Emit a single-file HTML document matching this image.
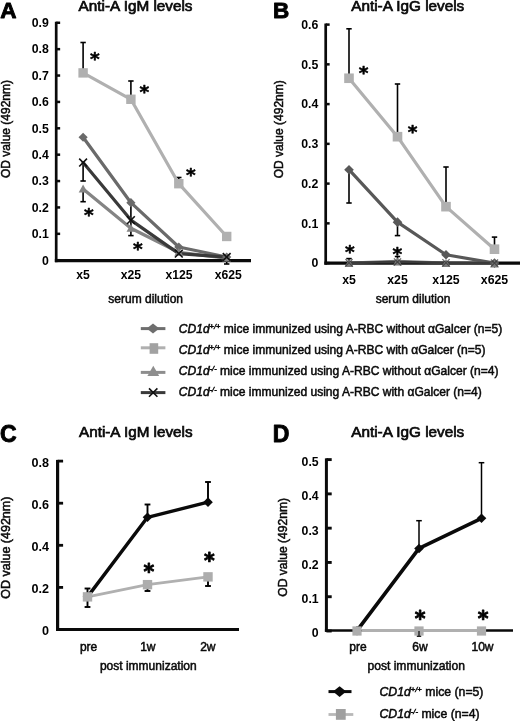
<!DOCTYPE html>
<html lang="en"><head><meta charset="utf-8"><title>Anti-A antibody levels</title>
<style>html,body{margin:0;padding:0;background:#fff}svg{display:block}</style></head>
<body>
<svg width="520" height="721" viewBox="0 0 520 721" font-family="Liberation Sans, Arial, Helvetica, sans-serif">
<rect width="520" height="721" fill="#fff"/>
<g style="filter:grayscale(1)">
<text transform="translate(0.3,18.4) scale(1.0,1)" font-size="22.5" font-weight="bold" fill="#000" stroke="#000" stroke-width="0.9" stroke-linejoin="round">A</text>
<text x="78.6" y="11.3" font-size="15.3" text-anchor="start" font-weight="normal" font-style="normal" fill="#0a0a0a" stroke="#0a0a0a" stroke-width="0.7" >Anti-A IgM levels</text>
<line x1="56.20" y1="21.73" x2="56.20" y2="262.20" stroke="#0a0a0a" stroke-width="2.7" stroke-linecap="butt"/>
<line x1="54.85" y1="260.65" x2="251.00" y2="260.65" stroke="#0a0a0a" stroke-width="3.1" stroke-linecap="butt"/>
<line x1="56.20" y1="260.20" x2="60.15" y2="260.20" stroke="#0a0a0a" stroke-width="2.5" stroke-linecap="butt"/>
<text x="48.800000000000004" y="264.5" font-size="12.3" text-anchor="end" font-weight="bold" font-style="normal" fill="#000" >0</text>
<line x1="56.20" y1="233.82" x2="60.15" y2="233.82" stroke="#0a0a0a" stroke-width="2.5" stroke-linecap="butt"/>
<text x="48.800000000000004" y="238.12" font-size="12.3" text-anchor="end" font-weight="bold" font-style="normal" fill="#000" >0.1</text>
<line x1="56.20" y1="207.44" x2="60.15" y2="207.44" stroke="#0a0a0a" stroke-width="2.5" stroke-linecap="butt"/>
<text x="48.800000000000004" y="211.74" font-size="12.3" text-anchor="end" font-weight="bold" font-style="normal" fill="#000" >0.2</text>
<line x1="56.20" y1="181.06" x2="60.15" y2="181.06" stroke="#0a0a0a" stroke-width="2.5" stroke-linecap="butt"/>
<text x="48.800000000000004" y="185.36" font-size="12.3" text-anchor="end" font-weight="bold" font-style="normal" fill="#000" >0.3</text>
<line x1="56.20" y1="154.68" x2="60.15" y2="154.68" stroke="#0a0a0a" stroke-width="2.5" stroke-linecap="butt"/>
<text x="48.800000000000004" y="158.98" font-size="12.3" text-anchor="end" font-weight="bold" font-style="normal" fill="#000" >0.4</text>
<line x1="56.20" y1="128.30" x2="60.15" y2="128.30" stroke="#0a0a0a" stroke-width="2.5" stroke-linecap="butt"/>
<text x="48.800000000000004" y="132.6" font-size="12.3" text-anchor="end" font-weight="bold" font-style="normal" fill="#000" >0.5</text>
<line x1="56.20" y1="101.92" x2="60.15" y2="101.92" stroke="#0a0a0a" stroke-width="2.5" stroke-linecap="butt"/>
<text x="48.800000000000004" y="106.21999999999998" font-size="12.3" text-anchor="end" font-weight="bold" font-style="normal" fill="#000" >0.6</text>
<line x1="56.20" y1="75.54" x2="60.15" y2="75.54" stroke="#0a0a0a" stroke-width="2.5" stroke-linecap="butt"/>
<text x="48.800000000000004" y="79.83999999999999" font-size="12.3" text-anchor="end" font-weight="bold" font-style="normal" fill="#000" >0.7</text>
<line x1="56.20" y1="49.16" x2="60.15" y2="49.16" stroke="#0a0a0a" stroke-width="2.5" stroke-linecap="butt"/>
<text x="48.800000000000004" y="53.459999999999965" font-size="12.3" text-anchor="end" font-weight="bold" font-style="normal" fill="#000" >0.8</text>
<line x1="56.20" y1="22.78" x2="60.15" y2="22.78" stroke="#0a0a0a" stroke-width="2.5" stroke-linecap="butt"/>
<text x="48.800000000000004" y="27.079999999999973" font-size="12.3" text-anchor="end" font-weight="bold" font-style="normal" fill="#000" >0.9</text>
<text x="83.1" y="279.1" font-size="12.2" text-anchor="middle" font-weight="bold" font-style="normal" fill="#000" >x5</text>
<text x="130.9" y="279.1" font-size="12.2" text-anchor="middle" font-weight="bold" font-style="normal" fill="#000" >x25</text>
<text x="179.0" y="279.1" font-size="12.2" text-anchor="middle" font-weight="bold" font-style="normal" fill="#000" >x125</text>
<text x="228.2" y="279.1" font-size="12.2" text-anchor="middle" font-weight="bold" font-style="normal" fill="#000" >x625</text>
<text x="145.7" y="302.5" font-size="12" text-anchor="middle" font-weight="normal" font-style="normal" fill="#0a0a0a" stroke="#0a0a0a" stroke-width="0.5" >serum dilution</text>
<text transform="translate(9.7,129) rotate(-90)" font-size="12" text-anchor="middle" fill="#0a0a0a" stroke="#0a0a0a" stroke-width="0.5">OD value (492nm)</text>
<line x1="83.10" y1="72.90" x2="83.10" y2="42.50" stroke="#000" stroke-width="1.6" stroke-linecap="butt"/>
<line x1="80.40" y1="42.50" x2="85.80" y2="42.50" stroke="#000" stroke-width="1.6" stroke-linecap="butt"/>
<line x1="130.90" y1="99.28" x2="130.90" y2="81.00" stroke="#000" stroke-width="1.6" stroke-linecap="butt"/>
<line x1="128.20" y1="81.00" x2="133.60" y2="81.00" stroke="#000" stroke-width="1.6" stroke-linecap="butt"/>
<line x1="178.80" y1="183.70" x2="178.80" y2="177.50" stroke="#000" stroke-width="1.6" stroke-linecap="butt"/>
<line x1="176.10" y1="177.50" x2="181.50" y2="177.50" stroke="#000" stroke-width="1.6" stroke-linecap="butt"/>
<line x1="83.10" y1="162.59" x2="83.10" y2="181.00" stroke="#000" stroke-width="1.6" stroke-linecap="butt"/>
<line x1="80.40" y1="181.00" x2="85.80" y2="181.00" stroke="#000" stroke-width="1.6" stroke-linecap="butt"/>
<line x1="83.10" y1="188.97" x2="83.10" y2="201.70" stroke="#000" stroke-width="1.6" stroke-linecap="butt"/>
<line x1="80.40" y1="201.70" x2="85.80" y2="201.70" stroke="#000" stroke-width="1.6" stroke-linecap="butt"/>
<line x1="130.90" y1="202.69" x2="130.90" y2="235.60" stroke="#000" stroke-width="1.6" stroke-linecap="butt"/>
<line x1="128.20" y1="235.60" x2="133.60" y2="235.60" stroke="#000" stroke-width="1.6" stroke-linecap="butt"/>
<line x1="226.70" y1="257.03" x2="226.70" y2="264.00" stroke="#000" stroke-width="1.6" stroke-linecap="butt"/>
<line x1="224.00" y1="264.00" x2="229.40" y2="264.00" stroke="#000" stroke-width="1.6" stroke-linecap="butt"/>
<polyline points="83.10,72.90 130.90,99.28 178.80,183.70 226.70,236.46" fill="none" stroke="#b0b0b0" stroke-width="3.2" stroke-linejoin="round" stroke-linecap="round"/>
<polyline points="83.10,137.27 130.90,202.69 178.80,247.01 226.70,257.03" fill="none" stroke="#6a6a6a" stroke-width="3.2" stroke-linejoin="round" stroke-linecap="round"/>
<polyline points="83.10,188.97 130.90,228.28 178.80,252.29 226.70,258.09" fill="none" stroke="#848484" stroke-width="3.2" stroke-linejoin="round" stroke-linecap="round"/>
<polyline points="83.10,162.59 130.90,220.10 178.80,253.60 226.70,257.03" fill="none" stroke="#3a3a3a" stroke-width="3.2" stroke-linejoin="round" stroke-linecap="round"/>
<rect x="78.40" y="68.20" width="9.4" height="9.4" fill="#b0b0b0"/>
<rect x="126.20" y="94.58" width="9.4" height="9.4" fill="#b0b0b0"/>
<rect x="174.10" y="179.00" width="9.4" height="9.4" fill="#b0b0b0"/>
<rect x="222.00" y="231.76" width="9.4" height="9.4" fill="#b0b0b0"/>
<polygon points="83.10,132.67 87.70,137.27 83.10,141.87 78.50,137.27" fill="#6a6a6a"/>
<polygon points="130.90,198.09 135.50,202.69 130.90,207.29 126.30,202.69" fill="#6a6a6a"/>
<polygon points="178.80,242.41 183.40,247.01 178.80,251.61 174.20,247.01" fill="#6a6a6a"/>
<polygon points="226.70,252.43 231.30,257.03 226.70,261.63 222.10,257.03" fill="#6a6a6a"/>
<polygon points="83.10,184.57 87.50,192.49 78.70,192.49" fill="#848484"/>
<polygon points="130.90,223.88 135.30,231.80 126.50,231.80" fill="#848484"/>
<polygon points="178.80,247.89 183.20,255.81 174.40,255.81" fill="#848484"/>
<polygon points="226.70,253.69 231.10,261.61 222.30,261.61" fill="#848484"/>
<path d="M79.20,158.69 L87.00,166.49 M87.00,158.69 L79.20,166.49" stroke="#111" stroke-width="1.6" fill="none"/>
<path d="M127.00,216.20 L134.80,224.00 M134.80,216.20 L127.00,224.00" stroke="#111" stroke-width="1.6" fill="none"/>
<path d="M174.90,249.70 L182.70,257.50 M182.70,249.70 L174.90,257.50" stroke="#111" stroke-width="1.6" fill="none"/>
<path d="M222.80,253.13 L230.60,260.93 M230.60,253.13 L222.80,260.93" stroke="#111" stroke-width="1.6" fill="none"/>
<text x="89.88" y="65.23" font-size="18.5" font-family="DejaVu Sans, Liberation Sans, sans-serif" font-weight="bold" fill="#000" stroke="#000" stroke-width="0.55" stroke-linejoin="round">*</text>
<text x="139.48" y="98.23" font-size="18.5" font-family="DejaVu Sans, Liberation Sans, sans-serif" font-weight="bold" fill="#000" stroke="#000" stroke-width="0.55" stroke-linejoin="round">*</text>
<text x="186.08" y="181.43" font-size="18.5" font-family="DejaVu Sans, Liberation Sans, sans-serif" font-weight="bold" fill="#000" stroke="#000" stroke-width="0.55" stroke-linejoin="round">*</text>
<text x="83.88" y="221.13" font-size="18.5" font-family="DejaVu Sans, Liberation Sans, sans-serif" font-weight="bold" fill="#000" stroke="#000" stroke-width="0.55" stroke-linejoin="round">*</text>
<text x="133.08" y="254.73" font-size="18.5" font-family="DejaVu Sans, Liberation Sans, sans-serif" font-weight="bold" fill="#000" stroke="#000" stroke-width="0.55" stroke-linejoin="round">*</text>
<text transform="translate(273.0,18.3) scale(1.0,1)" font-size="22.5" font-weight="bold" fill="#000" stroke="#000" stroke-width="0.9" stroke-linejoin="round">B</text>
<text x="351.2" y="11.3" font-size="15.3" text-anchor="start" font-weight="normal" font-style="normal" fill="#0a0a0a" stroke="#0a0a0a" stroke-width="0.7" >Anti-A IgG levels</text>
<line x1="325.70" y1="23.55" x2="325.70" y2="264.65" stroke="#0a0a0a" stroke-width="2.7" stroke-linecap="butt"/>
<line x1="324.35" y1="263.10" x2="521.00" y2="263.10" stroke="#0a0a0a" stroke-width="3.1" stroke-linecap="butt"/>
<line x1="325.70" y1="263.10" x2="329.65" y2="263.10" stroke="#0a0a0a" stroke-width="2.5" stroke-linecap="butt"/>
<text x="318.3" y="267.40000000000003" font-size="12.3" text-anchor="end" font-weight="bold" font-style="normal" fill="#000" >0</text>
<line x1="325.70" y1="223.35" x2="329.65" y2="223.35" stroke="#0a0a0a" stroke-width="2.5" stroke-linecap="butt"/>
<text x="318.3" y="227.65000000000003" font-size="12.3" text-anchor="end" font-weight="bold" font-style="normal" fill="#000" >0.1</text>
<line x1="325.70" y1="183.60" x2="329.65" y2="183.60" stroke="#0a0a0a" stroke-width="2.5" stroke-linecap="butt"/>
<text x="318.3" y="187.90000000000003" font-size="12.3" text-anchor="end" font-weight="bold" font-style="normal" fill="#000" >0.2</text>
<line x1="325.70" y1="143.85" x2="329.65" y2="143.85" stroke="#0a0a0a" stroke-width="2.5" stroke-linecap="butt"/>
<text x="318.3" y="148.15000000000003" font-size="12.3" text-anchor="end" font-weight="bold" font-style="normal" fill="#000" >0.3</text>
<line x1="325.70" y1="104.10" x2="329.65" y2="104.10" stroke="#0a0a0a" stroke-width="2.5" stroke-linecap="butt"/>
<text x="318.3" y="108.40000000000002" font-size="12.3" text-anchor="end" font-weight="bold" font-style="normal" fill="#000" >0.4</text>
<line x1="325.70" y1="64.35" x2="329.65" y2="64.35" stroke="#0a0a0a" stroke-width="2.5" stroke-linecap="butt"/>
<text x="318.3" y="68.65000000000002" font-size="12.3" text-anchor="end" font-weight="bold" font-style="normal" fill="#000" >0.5</text>
<line x1="325.70" y1="24.60" x2="329.65" y2="24.60" stroke="#0a0a0a" stroke-width="2.5" stroke-linecap="butt"/>
<text x="318.3" y="28.900000000000023" font-size="12.3" text-anchor="end" font-weight="bold" font-style="normal" fill="#000" >0.6</text>
<text x="349" y="284.3" font-size="12.3" text-anchor="middle" font-weight="bold" font-style="normal" fill="#000" >x5</text>
<text x="397.5" y="284.3" font-size="12.3" text-anchor="middle" font-weight="bold" font-style="normal" fill="#000" >x25</text>
<text x="446" y="284.3" font-size="12.3" text-anchor="middle" font-weight="bold" font-style="normal" fill="#000" >x125</text>
<text x="494.5" y="284.3" font-size="12.3" text-anchor="middle" font-weight="bold" font-style="normal" fill="#000" >x625</text>
<text x="413" y="302.8" font-size="12" text-anchor="middle" font-weight="normal" font-style="normal" fill="#0a0a0a" stroke="#0a0a0a" stroke-width="0.5" >serum dilution</text>
<text transform="translate(282.8,129.3) rotate(-90)" font-size="12" text-anchor="middle" fill="#0a0a0a" stroke="#0a0a0a" stroke-width="0.5">OD value (492nm)</text>
<line x1="349.00" y1="78.26" x2="349.00" y2="28.80" stroke="#000" stroke-width="1.6" stroke-linecap="butt"/>
<line x1="346.30" y1="28.80" x2="351.70" y2="28.80" stroke="#000" stroke-width="1.6" stroke-linecap="butt"/>
<line x1="397.50" y1="136.70" x2="397.50" y2="84.00" stroke="#000" stroke-width="1.6" stroke-linecap="butt"/>
<line x1="394.80" y1="84.00" x2="400.20" y2="84.00" stroke="#000" stroke-width="1.6" stroke-linecap="butt"/>
<line x1="446.00" y1="206.66" x2="446.00" y2="167.00" stroke="#000" stroke-width="1.6" stroke-linecap="butt"/>
<line x1="443.30" y1="167.00" x2="448.70" y2="167.00" stroke="#000" stroke-width="1.6" stroke-linecap="butt"/>
<line x1="494.50" y1="249.19" x2="494.50" y2="237.10" stroke="#000" stroke-width="1.6" stroke-linecap="butt"/>
<line x1="491.80" y1="237.10" x2="497.20" y2="237.10" stroke="#000" stroke-width="1.6" stroke-linecap="butt"/>
<line x1="349.00" y1="169.69" x2="349.00" y2="203.00" stroke="#000" stroke-width="1.6" stroke-linecap="butt"/>
<line x1="346.30" y1="203.00" x2="351.70" y2="203.00" stroke="#000" stroke-width="1.6" stroke-linecap="butt"/>
<line x1="397.50" y1="222.16" x2="397.50" y2="235.60" stroke="#000" stroke-width="1.6" stroke-linecap="butt"/>
<line x1="394.80" y1="235.60" x2="400.20" y2="235.60" stroke="#000" stroke-width="1.6" stroke-linecap="butt"/>
<line x1="349.00" y1="262.31" x2="349.00" y2="258.60" stroke="#000" stroke-width="1.6" stroke-linecap="butt"/>
<line x1="346.30" y1="258.60" x2="351.70" y2="258.60" stroke="#000" stroke-width="1.6" stroke-linecap="butt"/>
<line x1="397.50" y1="260.72" x2="397.50" y2="256.50" stroke="#000" stroke-width="1.6" stroke-linecap="butt"/>
<line x1="394.80" y1="256.50" x2="400.20" y2="256.50" stroke="#000" stroke-width="1.6" stroke-linecap="butt"/>
<polyline points="349.00,78.26 397.50,136.70 446.00,206.66 494.50,249.19" fill="none" stroke="#b0b0b0" stroke-width="3.2" stroke-linejoin="round" stroke-linecap="round"/>
<polyline points="349.00,169.69 397.50,222.16 446.00,254.75 494.50,263.10" fill="none" stroke="#585858" stroke-width="3.2" stroke-linejoin="round" stroke-linecap="round"/>
<polyline points="349.00,262.70 397.50,261.11 446.00,262.70 494.50,263.10" fill="none" stroke="#7a7a7a" stroke-width="2.5" stroke-linejoin="round" stroke-linecap="round"/>
<polyline points="349.00,262.70 397.50,261.91 446.00,262.70 494.50,263.10" fill="none" stroke="#3a3a3a" stroke-width="2.5" stroke-linejoin="round" stroke-linecap="round"/>
<rect x="344.20" y="73.46" width="9.6" height="9.6" fill="#b0b0b0"/>
<rect x="392.70" y="131.90" width="9.6" height="9.6" fill="#b0b0b0"/>
<rect x="441.20" y="201.86" width="9.6" height="9.6" fill="#b0b0b0"/>
<rect x="489.70" y="244.39" width="9.6" height="9.6" fill="#b0b0b0"/>
<polygon points="349.00,164.89 353.80,169.69 349.00,174.49 344.20,169.69" fill="#585858"/>
<polygon points="397.50,217.36 402.30,222.16 397.50,226.96 392.70,222.16" fill="#585858"/>
<polygon points="446.00,249.95 450.80,254.75 446.00,259.55 441.20,254.75" fill="#585858"/>
<polygon points="494.50,258.30 499.30,263.10 494.50,267.90 489.70,263.10" fill="#585858"/>
<polygon points="349.00,259.10 353.40,267.02 344.60,267.02" fill="#7a7a7a"/>
<polygon points="397.50,257.51 401.90,265.43 393.10,265.43" fill="#7a7a7a"/>
<polygon points="446.00,259.10 450.40,267.02 441.60,267.02" fill="#7a7a7a"/>
<polygon points="494.50,259.50 498.90,267.42 490.10,267.42" fill="#7a7a7a"/>
<path d="M345.40,259.10 L352.60,266.30 M352.60,259.10 L345.40,266.30" stroke="#333" stroke-width="1.2" fill="none" opacity="0.75"/>
<path d="M393.90,258.31 L401.10,265.51 M401.10,258.31 L393.90,265.51" stroke="#333" stroke-width="1.2" fill="none" opacity="0.75"/>
<path d="M442.40,259.10 L449.60,266.30 M449.60,259.10 L442.40,266.30" stroke="#333" stroke-width="1.2" fill="none" opacity="0.75"/>
<path d="M490.90,259.50 L498.10,266.70 M498.10,259.50 L490.90,266.70" stroke="#333" stroke-width="1.2" fill="none" opacity="0.75"/>
<text x="358.78" y="79.13" font-size="18.5" font-family="DejaVu Sans, Liberation Sans, sans-serif" font-weight="bold" fill="#000" stroke="#000" stroke-width="0.55" stroke-linejoin="round">*</text>
<text x="407.68" y="137.73" font-size="18.5" font-family="DejaVu Sans, Liberation Sans, sans-serif" font-weight="bold" fill="#000" stroke="#000" stroke-width="0.55" stroke-linejoin="round">*</text>
<text x="344.98" y="257.93" font-size="18.5" font-family="DejaVu Sans, Liberation Sans, sans-serif" font-weight="bold" fill="#000" stroke="#000" stroke-width="0.55" stroke-linejoin="round">*</text>
<text x="392.48" y="259.73" font-size="18.5" font-family="DejaVu Sans, Liberation Sans, sans-serif" font-weight="bold" fill="#000" stroke="#000" stroke-width="0.55" stroke-linejoin="round">*</text>
<line x1="140.80" y1="328.60" x2="165.40" y2="328.60" stroke="#6e6e6e" stroke-width="3.0" stroke-linecap="butt"/>
<polygon points="153,323.6 159.3,328.6 153,333.6 146.7,328.6" fill="#6e6e6e"/>
<text x="178.8" y="333" font-size="12.05" fill="#0a0a0a" stroke="#0a0a0a" stroke-width="0.5"><tspan font-style="italic">CD1d</tspan><tspan font-style="italic" font-size="7.5" dy="-4">+/+</tspan><tspan dy="4"> mice immunized using A-RBC without αGalcer (n=5)</tspan></text>
<line x1="140.80" y1="347.80" x2="165.40" y2="347.80" stroke="#b0b0b0" stroke-width="3.0" stroke-linecap="butt"/>
<rect x="149.6" y="343.2" width="8.6" height="10.6" fill="#a2a2a2"/>
<text x="178.8" y="353.7" font-size="12.05" fill="#0a0a0a" stroke="#0a0a0a" stroke-width="0.5"><tspan font-style="italic">CD1d</tspan><tspan font-style="italic" font-size="7.5" dy="-4">+/+</tspan><tspan dy="4"> mice immunized using A-RBC with αGalcer (n=5)</tspan></text>
<line x1="140.80" y1="372.40" x2="165.40" y2="372.40" stroke="#8e8e8e" stroke-width="3.0" stroke-linecap="butt"/>
<polygon points="153.3,365.79999999999995 159.2,376.0 147.4,376.0" fill="#8e8e8e"/>
<text x="178.8" y="374.9" font-size="12.05" fill="#0a0a0a" stroke="#0a0a0a" stroke-width="0.5"><tspan font-style="italic">CD1d</tspan><tspan font-style="italic" font-size="7.5" dy="-4">-/-</tspan><tspan dy="4"> mice immunized using A-RBC without αGalcer (n=4)</tspan></text>
<line x1="140.80" y1="392.60" x2="165.40" y2="392.60" stroke="#3a3a3a" stroke-width="3.0" stroke-linecap="butt"/>
<path d="M149.00,388.40 L157.40,396.80 M157.40,388.40 L149.00,396.80" stroke="#111" stroke-width="1.6" fill="none"/>
<text x="178.8" y="395.5" font-size="12.05" fill="#0a0a0a" stroke="#0a0a0a" stroke-width="0.5"><tspan font-style="italic">CD1d</tspan><tspan font-style="italic" font-size="7.5" dy="-4">-/-</tspan><tspan dy="4"> mice immunized using A-RBC with αGalcer (n=4)</tspan></text>
<text transform="translate(0.1,442.1) scale(1.0,1)" font-size="23" font-weight="bold" fill="#000" stroke="#000" stroke-width="0.9" stroke-linejoin="round">C</text>
<text x="79" y="437.2" font-size="15.25" text-anchor="start" font-weight="normal" font-style="normal" fill="#0a0a0a" stroke="#0a0a0a" stroke-width="0.7" >Anti-A IgM levels</text>
<line x1="57.60" y1="459.90" x2="57.60" y2="631.00" stroke="#0a0a0a" stroke-width="3.2" stroke-linecap="butt"/>
<line x1="56.00" y1="629.50" x2="239.00" y2="629.50" stroke="#0a0a0a" stroke-width="3.0" stroke-linecap="butt"/>
<line x1="57.60" y1="629.50" x2="63.10" y2="629.50" stroke="#0a0a0a" stroke-width="2.8" stroke-linecap="butt"/>
<text x="49.1" y="635.0" font-size="12.6" text-anchor="end" font-weight="bold" font-style="normal" fill="#000" >0</text>
<line x1="57.60" y1="587.40" x2="63.10" y2="587.40" stroke="#0a0a0a" stroke-width="2.8" stroke-linecap="butt"/>
<text x="49.1" y="592.9" font-size="12.6" text-anchor="end" font-weight="bold" font-style="normal" fill="#000" >0.2</text>
<line x1="57.60" y1="545.30" x2="63.10" y2="545.30" stroke="#0a0a0a" stroke-width="2.8" stroke-linecap="butt"/>
<text x="49.1" y="550.8" font-size="12.6" text-anchor="end" font-weight="bold" font-style="normal" fill="#000" >0.4</text>
<line x1="57.60" y1="503.20" x2="63.10" y2="503.20" stroke="#0a0a0a" stroke-width="2.8" stroke-linecap="butt"/>
<text x="49.1" y="508.7" font-size="12.6" text-anchor="end" font-weight="bold" font-style="normal" fill="#000" >0.6</text>
<line x1="57.60" y1="461.10" x2="63.10" y2="461.10" stroke="#0a0a0a" stroke-width="2.8" stroke-linecap="butt"/>
<text x="49.1" y="466.6" font-size="12.6" text-anchor="end" font-weight="bold" font-style="normal" fill="#000" >0.8</text>
<text x="88.6" y="651" font-size="12" text-anchor="middle" font-weight="normal" font-style="normal" fill="#0a0a0a" stroke="#0a0a0a" stroke-width="0.5" >pre</text>
<text x="147.8" y="651" font-size="12" text-anchor="middle" font-weight="normal" font-style="normal" fill="#0a0a0a" stroke="#0a0a0a" stroke-width="0.5" >1w</text>
<text x="207.8" y="651" font-size="12" text-anchor="middle" font-weight="normal" font-style="normal" fill="#0a0a0a" stroke="#0a0a0a" stroke-width="0.5" >2w</text>
<text x="148.3" y="670.2" font-size="12" text-anchor="middle" font-weight="normal" font-style="normal" fill="#0a0a0a" stroke="#0a0a0a" stroke-width="0.5" >post immunization</text>
<text transform="translate(9.6,547.7) rotate(-90)" font-size="12.5" text-anchor="middle" fill="#0a0a0a" stroke="#0a0a0a" stroke-width="0.5">OD value (492nm)</text>
<line x1="87.50" y1="596.87" x2="87.50" y2="588.50" stroke="#000" stroke-width="1.9" stroke-linecap="butt"/>
<line x1="84.60" y1="588.50" x2="90.40" y2="588.50" stroke="#000" stroke-width="1.9" stroke-linecap="butt"/>
<line x1="87.50" y1="596.87" x2="87.50" y2="607.00" stroke="#000" stroke-width="1.9" stroke-linecap="butt"/>
<line x1="84.60" y1="607.00" x2="90.40" y2="607.00" stroke="#000" stroke-width="1.9" stroke-linecap="butt"/>
<line x1="147.50" y1="517.30" x2="147.50" y2="504.50" stroke="#000" stroke-width="1.9" stroke-linecap="butt"/>
<line x1="144.60" y1="504.50" x2="150.40" y2="504.50" stroke="#000" stroke-width="1.9" stroke-linecap="butt"/>
<line x1="208.00" y1="502.15" x2="208.00" y2="482.00" stroke="#000" stroke-width="1.9" stroke-linecap="butt"/>
<line x1="205.10" y1="482.00" x2="210.90" y2="482.00" stroke="#000" stroke-width="1.9" stroke-linecap="butt"/>
<line x1="147.50" y1="584.66" x2="147.50" y2="591.00" stroke="#000" stroke-width="1.9" stroke-linecap="butt"/>
<line x1="144.60" y1="591.00" x2="150.40" y2="591.00" stroke="#000" stroke-width="1.9" stroke-linecap="butt"/>
<line x1="208.00" y1="576.88" x2="208.00" y2="586.00" stroke="#000" stroke-width="1.9" stroke-linecap="butt"/>
<line x1="205.10" y1="586.00" x2="210.90" y2="586.00" stroke="#000" stroke-width="1.9" stroke-linecap="butt"/>
<polyline points="87.50,596.87 147.50,517.30 208.00,502.15" fill="none" stroke="#0a0a0a" stroke-width="3.4" stroke-linejoin="round" stroke-linecap="round"/>
<polyline points="87.50,596.87 147.50,584.66 208.00,576.88" fill="none" stroke="#b0b0b0" stroke-width="2.9" stroke-linejoin="round" stroke-linecap="round"/>
<polygon points="87.50,592.07 92.30,596.87 87.50,601.67 82.70,596.87" fill="#0a0a0a"/>
<polygon points="147.50,512.50 152.30,517.30 147.50,522.10 142.70,517.30" fill="#0a0a0a"/>
<polygon points="208.00,497.35 212.80,502.15 208.00,506.95 203.20,502.15" fill="#0a0a0a"/>
<rect x="82.80" y="592.17" width="9.4" height="9.4" fill="#adadad"/>
<rect x="142.80" y="579.96" width="9.4" height="9.4" fill="#adadad"/>
<rect x="203.30" y="572.17" width="9.4" height="9.4" fill="#adadad"/>
<text x="143.57" y="578.86" font-size="20.5" font-family="DejaVu Sans, Liberation Sans, sans-serif" font-weight="bold" fill="#000" stroke="#000" stroke-width="0.85" stroke-linejoin="round">*</text>
<text x="203.97" y="568.36" font-size="20.5" font-family="DejaVu Sans, Liberation Sans, sans-serif" font-weight="bold" fill="#000" stroke="#000" stroke-width="0.85" stroke-linejoin="round">*</text>
<text transform="translate(272.7,441.8) scale(1.0,1)" font-size="23" font-weight="bold" fill="#000" stroke="#000" stroke-width="0.9" stroke-linejoin="round">D</text>
<text x="351.2" y="437.2" font-size="15.3" text-anchor="start" font-weight="normal" font-style="normal" fill="#0a0a0a" stroke="#0a0a0a" stroke-width="0.7" >Anti-A IgG levels</text>
<line x1="326.40" y1="458.35" x2="326.40" y2="631.80" stroke="#0a0a0a" stroke-width="3.0" stroke-linecap="butt"/>
<line x1="324.90" y1="630.50" x2="513.00" y2="630.50" stroke="#0a0a0a" stroke-width="2.6" stroke-linecap="butt"/>
<line x1="326.40" y1="631.00" x2="331.70" y2="631.00" stroke="#0a0a0a" stroke-width="2.9" stroke-linecap="butt"/>
<text x="318.7" y="637.4" font-size="12.3" text-anchor="end" font-weight="bold" font-style="normal" fill="#000" >0</text>
<line x1="326.40" y1="596.72" x2="331.70" y2="596.72" stroke="#0a0a0a" stroke-width="2.9" stroke-linecap="butt"/>
<text x="318.7" y="603.12" font-size="12.3" text-anchor="end" font-weight="bold" font-style="normal" fill="#000" >0.1</text>
<line x1="326.40" y1="562.44" x2="331.70" y2="562.44" stroke="#0a0a0a" stroke-width="2.9" stroke-linecap="butt"/>
<text x="318.7" y="568.84" font-size="12.3" text-anchor="end" font-weight="bold" font-style="normal" fill="#000" >0.2</text>
<line x1="326.40" y1="528.16" x2="331.70" y2="528.16" stroke="#0a0a0a" stroke-width="2.9" stroke-linecap="butt"/>
<text x="318.7" y="534.56" font-size="12.3" text-anchor="end" font-weight="bold" font-style="normal" fill="#000" >0.3</text>
<line x1="326.40" y1="493.88" x2="331.70" y2="493.88" stroke="#0a0a0a" stroke-width="2.9" stroke-linecap="butt"/>
<text x="318.7" y="500.28" font-size="12.3" text-anchor="end" font-weight="bold" font-style="normal" fill="#000" >0.4</text>
<line x1="326.40" y1="459.60" x2="331.70" y2="459.60" stroke="#0a0a0a" stroke-width="2.9" stroke-linecap="butt"/>
<text x="318.7" y="466.0" font-size="12.3" text-anchor="end" font-weight="bold" font-style="normal" fill="#000" >0.5</text>
<text x="358" y="650.6" font-size="12" text-anchor="middle" font-weight="normal" font-style="normal" fill="#0a0a0a" stroke="#0a0a0a" stroke-width="0.5" >pre</text>
<text x="420" y="650.6" font-size="12" text-anchor="middle" font-weight="normal" font-style="normal" fill="#0a0a0a" stroke="#0a0a0a" stroke-width="0.5" >6w</text>
<text x="482.5" y="650.6" font-size="12" text-anchor="middle" font-weight="normal" font-style="normal" fill="#0a0a0a" stroke="#0a0a0a" stroke-width="0.5" >10w</text>
<text x="416.2" y="670.2" font-size="12.1" text-anchor="middle" font-weight="normal" font-style="normal" fill="#0a0a0a" stroke="#0a0a0a" stroke-width="0.5" >post immunization</text>
<text transform="translate(287,547.3) rotate(-90)" font-size="12.1" text-anchor="middle" fill="#0a0a0a" stroke="#0a0a0a" stroke-width="0.5">OD value (492nm)</text>
<line x1="419.00" y1="548.73" x2="419.00" y2="520.70" stroke="#000" stroke-width="1.5" stroke-linecap="butt"/>
<line x1="416.20" y1="520.70" x2="421.80" y2="520.70" stroke="#000" stroke-width="1.5" stroke-linecap="butt"/>
<line x1="481.50" y1="518.56" x2="481.50" y2="462.70" stroke="#000" stroke-width="1.5" stroke-linecap="butt"/>
<line x1="478.70" y1="462.70" x2="484.30" y2="462.70" stroke="#000" stroke-width="1.5" stroke-linecap="butt"/>
<polyline points="357.00,630.70 419.00,548.43 481.50,518.26" fill="none" stroke="#0a0a0a" stroke-width="3.6" stroke-linejoin="round" stroke-linecap="round"/>
<polyline points="357.00,630.50 419.00,630.50 481.50,630.50" fill="none" stroke="#b0b0b0" stroke-width="2.9" stroke-linejoin="round" stroke-linecap="round"/>
<polygon points="357.00,625.90 361.80,630.70 357.00,635.50 352.20,630.70" fill="#0a0a0a"/>
<polygon points="419.00,543.63 423.80,548.43 419.00,553.23 414.20,548.43" fill="#0a0a0a"/>
<polygon points="481.50,513.46 486.30,518.26 481.50,523.06 476.70,518.26" fill="#0a0a0a"/>
<rect x="352.40" y="626.40" width="9.2" height="9.2" fill="#adadad"/>
<rect x="414.40" y="626.40" width="9.2" height="9.2" fill="#adadad"/>
<rect x="476.90" y="626.40" width="9.2" height="9.2" fill="#adadad"/>
<text x="414.77" y="625.86" font-size="20.5" font-family="DejaVu Sans, Liberation Sans, sans-serif" font-weight="bold" fill="#000" stroke="#000" stroke-width="0.85" stroke-linejoin="round">*</text>
<text x="477.77" y="625.86" font-size="20.5" font-family="DejaVu Sans, Liberation Sans, sans-serif" font-weight="bold" fill="#000" stroke="#000" stroke-width="0.85" stroke-linejoin="round">*</text>
<line x1="419.00" y1="631.00" x2="419.00" y2="636.30" stroke="#222" stroke-width="1.4" stroke-linecap="butt"/>
<line x1="416.80" y1="636.30" x2="421.20" y2="636.30" stroke="#222" stroke-width="1.4" stroke-linecap="butt"/>
<line x1="328.50" y1="691.60" x2="351.50" y2="691.60" stroke="#0a0a0a" stroke-width="3.0" stroke-linecap="butt"/>
<polygon points="339.6,686.3 346.2,691.6 339.6,696.9 333,691.6" fill="#0a0a0a"/>
<line x1="328.50" y1="714.50" x2="353.30" y2="714.50" stroke="#b8b8b8" stroke-width="2.8" stroke-linecap="butt"/>
<rect x="335.9" y="709" width="9.8" height="10.8" fill="#a0a0a0"/>
<text x="379.5" y="696" font-size="12.25" fill="#0a0a0a" stroke="#0a0a0a" stroke-width="0.5"><tspan font-style="italic">CD1d</tspan><tspan font-style="italic" font-size="7.6" dy="-4.5">+/+</tspan><tspan dy="4.5"> mice (n=5)</tspan></text>
<text x="379.5" y="718.1" font-size="12.25" fill="#0a0a0a" stroke="#0a0a0a" stroke-width="0.5"><tspan font-style="italic">CD1d</tspan><tspan font-style="italic" font-size="7.6" dy="-4.5">-/-</tspan><tspan dy="4.5"> mice (n=4)</tspan></text>
</g>
</svg>
</body></html>
